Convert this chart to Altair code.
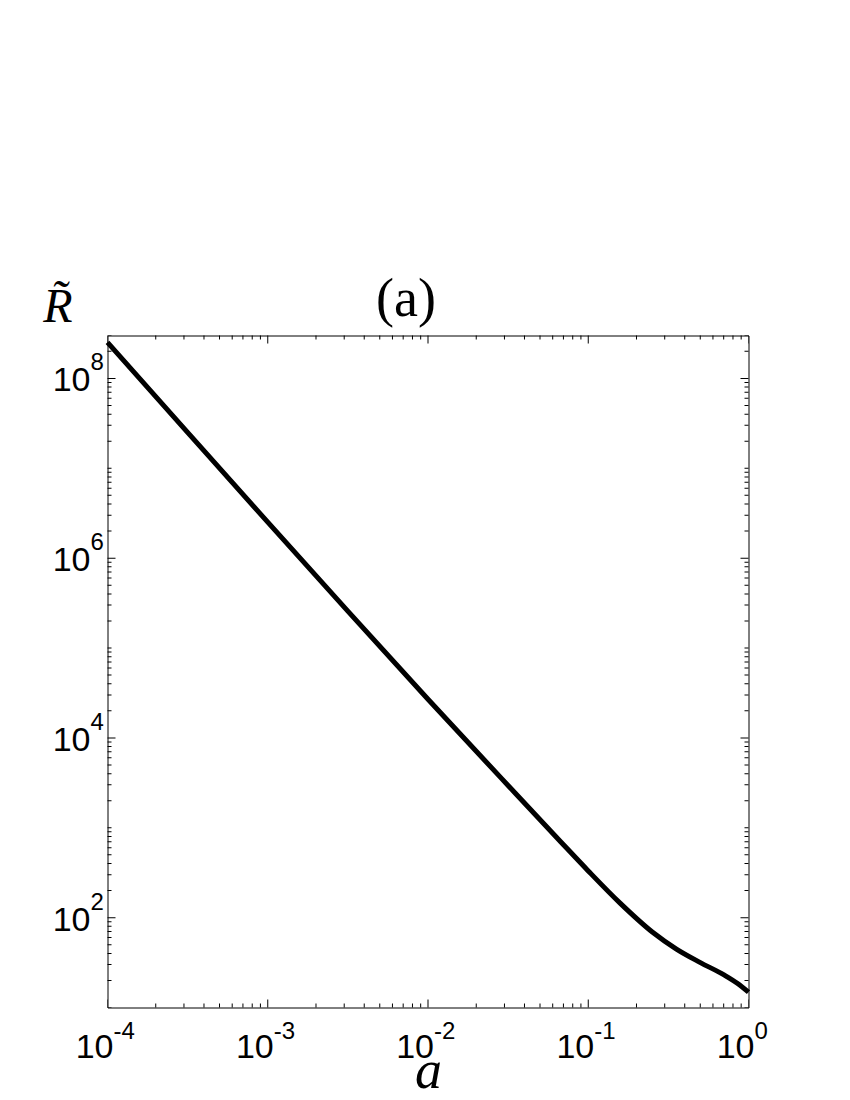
import altair as alt
import pandas as pd

# curve values
a_vals = [1e-4, 3.16e-4, 1e-3, 3.16e-3, 1e-2, 3.16e-2, 0.0668, 0.1, 0.158, 0.251,
          0.355, 0.501, 0.708, 0.851, 1.0]
R_vals = [2.51e8, 2.51e7, 2.51e6, 2.57e5, 2.69e4, 2951, 708, 331, 145, 69.2,
          44.7, 31.6, 22.9, 18.6, 14.8]

# axis ticks
x_major = [1e-4, 1e-3, 1e-2, 1e-1, 1.0]
x_major_exp = ["-4", "-3", "-2", "-1", "0"]
y_label_vals = [1e2, 1e4, 1e6, 1e8]
y_label_exp = ["2", "4", "6", "8"]
y_decades = [1e1, 1e2, 1e3, 1e4, 1e5, 1e6, 1e7, 1e8]
title_text = ["(a)"]

x_minor = [k * 10.0 ** e for e in range(-4, 0) for k in range(2, 10)]
y_minor = [k * 10.0 ** e for e in range(1, 9) for k in range(2, 10) if k * 10.0 ** e <= 3e8]
y_minor += [v for v in y_decades if v not in y_label_vals]

W, H = 641, 672
XDOM = [1e-4, 1.0]
YDOM = [10, 3e8]
xs = alt.Scale(type="log", domain=XDOM, nice=False)
ys = alt.Scale(type="log", domain=YDOM, nice=False)

curve = pd.DataFrame({"a": a_vals, "R": R_vals})
xt = pd.DataFrame({"a": x_major + x_minor,
                   "len": [16] * len(x_major) + [8] * len(x_minor)})
yt = pd.DataFrame({"R": y_label_vals + y_minor,
                   "len": [16] * len(y_label_vals) + [8] * len(y_minor)})
xl = pd.DataFrame({"a": x_major, "exp": x_major_exp})
yl = pd.DataFrame({"R": y_label_vals, "exp": y_label_exp})
tl = pd.DataFrame({"t": title_text})

NUMFONT = "Liberation Sans Narrow, Liberation Sans, Arial"
SERIF = "Liberation Serif, Times New Roman, serif"

line = alt.Chart(curve).mark_line(color="black", strokeWidth=5, interpolate="monotone").encode(
    x=alt.X("a:Q", scale=xs,
            axis=alt.Axis(labels=False, ticks=False, domain=False, grid=False,
                          title="a", titleFont=SERIF, titleFontStyle="italic",
                          titleFontWeight="normal", titleFontSize=54, titleColor="black",
                          titleX=W / 2, titleY=80, titleBaseline="alphabetic", titleAlign="center")),
    y=alt.Y("R:Q", scale=ys,
            axis=alt.Axis(labels=False, ticks=False, domain=False, grid=False,
                          title="R\u0303", titleFont=SERIF, titleFontStyle="italic",
                          titleFontWeight="normal", titleFontSize=48, titleColor="black",
                          titleAngle=0, titleX=-50, titleY=-14,
                          titleBaseline="alphabetic", titleAlign="center")),
)

def xticks(ypix):
    return alt.Chart(xt).mark_tick(color="black", thickness=1, opacity=1, clip=True,
                                   orient="vertical").encode(
        x=alt.X("a:Q", scale=xs), y=alt.value(ypix), size=alt.Size("len:Q", scale=None))

def yticks(xpix):
    return alt.Chart(yt).mark_tick(color="black", thickness=1, opacity=1, clip=True,
                                   orient="horizontal").encode(
        y=alt.Y("R:Q", scale=ys), x=alt.value(xpix), size=alt.Size("len:Q", scale=None))

xlab10 = alt.Chart(xl).mark_text(text="10", font=NUMFONT, fontSize=34, align="right",
                                 baseline="alphabetic", dx=6, color="black").encode(
    x=alt.X("a:Q", scale=xs), y=alt.value(H + 50))
xlabexp = alt.Chart(xl).mark_text(font=NUMFONT, fontSize=24, align="left",
                                  baseline="alphabetic", dx=6, color="black").encode(
    x=alt.X("a:Q", scale=xs), y=alt.value(H + 31), text="exp:N")

ylab10 = alt.Chart(yl).mark_text(text="10", font=NUMFONT, fontSize=34, align="right",
                                 baseline="middle", dy=3, color="black").encode(
    y=alt.Y("R:Q", scale=ys), x=alt.value(-17))
ylabexp = alt.Chart(yl).mark_text(font=NUMFONT, fontSize=24, align="left",
                                  baseline="middle", dy=-15, color="black").encode(
    y=alt.Y("R:Q", scale=ys), x=alt.value(-17), text="exp:N")

title = alt.Chart(tl).mark_text(font=SERIF, fontSize=54, align="center",
                                baseline="alphabetic", color="black").encode(
    x=alt.value(W / 2 - 22), y=alt.value(-20), text="t:N")

chart = alt.layer(
    line, xticks(H), xticks(0), yticks(0), yticks(W),
    xlab10, xlabexp, ylab10, ylabexp, title
).properties(
    width=W, height=H,
    background="white",
    autosize=alt.AutoSizeParams(type="none"),
    padding={"left": 99.5, "top": 327.5, "right": 60, "bottom": 92},
).configure_view(stroke="black", strokeWidth=1)

chart.save("out.html", embed_options={"renderer": "svg", "actions": False})
